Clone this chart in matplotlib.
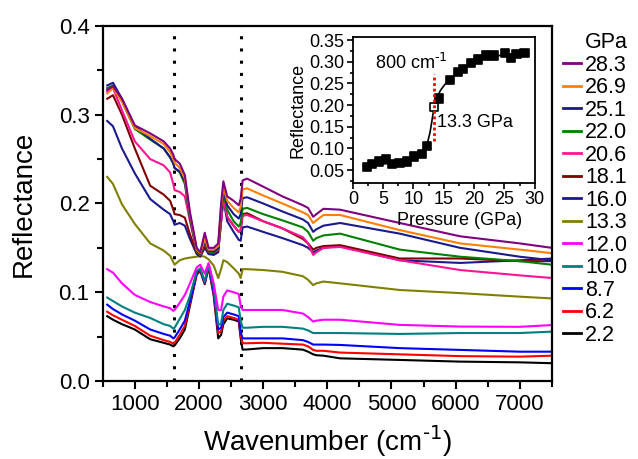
import matplotlib
matplotlib.use("Agg")
import matplotlib.pyplot as plt
from matplotlib.lines import Line2D
from matplotlib.ticker import MultipleLocator, FormatStrFormatter

plt.rcParams['font.family'] = ['Liberation Sans', 'DejaVu Sans']
plt.rcParams['mathtext.default'] = 'regular'

# ---------------- data ----------------
wavenumber = [570, 660, 800, 1000, 1240, 1450, 1550, 1600, 1620, 1700, 1780, 1860,
              1965, 2020, 2090, 2150, 2230, 2300, 2345, 2380, 2440, 2540, 2620, 2650,
              2680, 2750, 3000, 3300, 3620, 3700, 3780, 3830, 3940, 4200, 5130, 6070,
              7000, 7500]

r_28_3 = [0.328, 0.332, 0.318, 0.288, 0.279, 0.270, 0.262, 0.255, 0.250, 0.245, 0.232, 0.190,
          0.150, 0.145, 0.167, 0.150, 0.150, 0.155, 0.200, 0.225, 0.208, 0.203, 0.198, 0.205,
          0.226, 0.228, 0.219, 0.208, 0.198, 0.195, 0.185, 0.188, 0.194, 0.193, 0.178, 0.163,
          0.155, 0.150]
r_26_9 = [0.324, 0.330, 0.315, 0.285, 0.276, 0.267, 0.258, 0.250, 0.246, 0.240, 0.228, 0.188,
          0.148, 0.144, 0.160, 0.148, 0.148, 0.152, 0.195, 0.218, 0.203, 0.195, 0.190, 0.196,
          0.216, 0.217, 0.209, 0.200, 0.190, 0.187, 0.178, 0.181, 0.187, 0.187, 0.170, 0.155,
          0.148, 0.144]
r_25_1 = [0.333, 0.336, 0.318, 0.287, 0.273, 0.262, 0.252, 0.245, 0.240, 0.236, 0.225, 0.185,
          0.147, 0.143, 0.158, 0.147, 0.146, 0.150, 0.190, 0.215, 0.198, 0.188, 0.183, 0.188,
          0.206, 0.207, 0.200, 0.191, 0.182, 0.178, 0.168, 0.171, 0.175, 0.178, 0.166, 0.150,
          0.140, 0.136]
r_22_0 = [0.330, 0.333, 0.315, 0.284, 0.272, 0.262, 0.252, 0.245, 0.240, 0.235, 0.222, 0.183,
          0.146, 0.142, 0.157, 0.146, 0.145, 0.149, 0.188, 0.212, 0.193, 0.180, 0.174, 0.178,
          0.194, 0.195, 0.188, 0.181, 0.173, 0.168, 0.158, 0.161, 0.164, 0.166, 0.148, 0.140,
          0.135, 0.131]
r_20_6 = [0.326, 0.330, 0.305, 0.270, 0.250, 0.243, 0.235, 0.222, 0.215, 0.213, 0.208, 0.180,
          0.146, 0.142, 0.156, 0.146, 0.145, 0.148, 0.180, 0.205, 0.185, 0.175, 0.168, 0.170,
          0.186, 0.187, 0.180, 0.172, 0.162, 0.155, 0.142, 0.145, 0.150, 0.151, 0.136, 0.125,
          0.119, 0.116]
r_18_1 = [0.318, 0.322, 0.300, 0.262, 0.220, 0.210, 0.203, 0.193, 0.188, 0.187, 0.184, 0.165,
          0.144, 0.141, 0.152, 0.145, 0.144, 0.147, 0.180, 0.207, 0.185, 0.175, 0.168, 0.170,
          0.188, 0.189, 0.180, 0.172, 0.160, 0.155, 0.148, 0.150, 0.152, 0.153, 0.138, 0.138,
          0.135, 0.135]
r_16_0 = [0.293, 0.287, 0.262, 0.234, 0.205, 0.193, 0.188, 0.180, 0.176, 0.178, 0.175, 0.160,
          0.143, 0.140, 0.150, 0.143, 0.142, 0.145, 0.180, 0.205, 0.180, 0.168, 0.159, 0.158,
          0.173, 0.174, 0.168, 0.161, 0.153, 0.150, 0.145, 0.147, 0.150, 0.152, 0.136, 0.133,
          0.136, 0.138]
r_13_3 = [0.230, 0.222, 0.199, 0.177, 0.155, 0.147, 0.141, 0.134, 0.131, 0.136, 0.138, 0.139,
          0.140, 0.141, 0.140, 0.137, 0.130, 0.116, 0.126, 0.136, 0.134, 0.127, 0.121, 0.116,
          0.126, 0.126, 0.125, 0.123, 0.118, 0.114, 0.108, 0.110, 0.112, 0.110, 0.1025, 0.099,
          0.095, 0.093]
r_12_0 = [0.126, 0.122, 0.110, 0.097, 0.089, 0.084, 0.082, 0.079, 0.080, 0.088, 0.097, 0.110,
          0.128, 0.131, 0.121, 0.133, 0.110, 0.080, 0.080, 0.095, 0.102, 0.100, 0.098, 0.085,
          0.080, 0.080, 0.080, 0.080, 0.076, 0.072, 0.067, 0.068, 0.069, 0.069, 0.0632, 0.0613,
          0.061, 0.063]
r_10_0 = [0.094, 0.090, 0.084, 0.077, 0.071, 0.064, 0.062, 0.059, 0.060, 0.070, 0.080, 0.096,
          0.124, 0.127, 0.112, 0.131, 0.105, 0.063, 0.065, 0.080, 0.087, 0.085, 0.083, 0.068,
          0.060, 0.060, 0.061, 0.061, 0.059, 0.057, 0.054, 0.054, 0.054, 0.054, 0.053, 0.054,
          0.054, 0.0556]
r_8_7 = [0.086, 0.081, 0.075, 0.068, 0.058, 0.053, 0.051, 0.048, 0.049, 0.058, 0.068, 0.090,
         0.122, 0.126, 0.111, 0.130, 0.100, 0.058, 0.060, 0.072, 0.077, 0.075, 0.073, 0.055,
         0.048, 0.048, 0.048, 0.048, 0.046, 0.044, 0.041, 0.041, 0.041, 0.0406, 0.037, 0.035,
         0.033, 0.033]
r_6_2 = [0.078, 0.074, 0.069, 0.062, 0.051, 0.046, 0.044, 0.042, 0.043, 0.052, 0.062, 0.088,
         0.121, 0.125, 0.110, 0.129, 0.098, 0.054, 0.056, 0.068, 0.073, 0.071, 0.069, 0.052,
         0.0425, 0.0425, 0.043, 0.042, 0.041, 0.039, 0.035, 0.034, 0.034, 0.032, 0.030, 0.028,
         0.0274, 0.0285]
r_2_2 = [0.073, 0.069, 0.064, 0.058, 0.047, 0.043, 0.041, 0.039, 0.040, 0.048, 0.058, 0.085,
         0.120, 0.124, 0.109, 0.128, 0.096, 0.048, 0.052, 0.064, 0.0706, 0.069, 0.067, 0.048,
         0.0353, 0.0355, 0.037, 0.037, 0.0353, 0.033, 0.030, 0.029, 0.0285, 0.0255, 0.0237, 0.0218,
         0.021, 0.020]

pressure_labels = ["2.2", "6.2", "8.7", "10.0", "12.0", "13.3", "16.0", "18.1",
                   "20.6", "22.0", "25.1", "26.9", "28.3"]
series = [r_2_2, r_6_2, r_8_7, r_10_0, r_12_0, r_13_3, r_16_0, r_18_1,
          r_20_6, r_22_0, r_25_1, r_26_9, r_28_3]
colors = ["#000000", "#ff0000", "#0000ff", "#008080", "#ff00ff", "#808000", "#1a1a8c",
          "#800000", "#ff1493", "#008000", "#1a1a8c", "#ff8000", "#800080"]

marker_lines = [1610, 2655]

# inset data
inset_pressure = [2.3, 3.2, 4.3, 5.5, 6.5, 7.7, 8.9, 10.1, 11.4, 12.2, 13.4, 14.2, 16.0,
                  17.3, 18.2, 19.5, 20.6, 22.0, 23.3, 25.1, 26.1, 27.0, 28.3]
inset_reflect = [0.0577, 0.0633, 0.0694, 0.075, 0.0633, 0.0657, 0.0694, 0.081, 0.0867,
                 0.106, 0.1956, 0.215, 0.258, 0.277, 0.283, 0.297, 0.305, 0.314, 0.314,
                 0.320, 0.309, 0.318, 0.320]
fit_pressure = [1.8, 4, 6, 8, 10, 11, 11.8, 12.3, 12.7, 13.0, 13.3, 13.6, 14.0, 14.5,
                15.2, 16.0, 17.0, 18.0, 19.5, 21, 23, 25, 27, 28.5]
fit_reflect = [0.060, 0.063, 0.065, 0.069, 0.077, 0.085, 0.097, 0.113, 0.135, 0.160,
               0.187, 0.207, 0.222, 0.235, 0.248, 0.259, 0.272, 0.283, 0.296, 0.305,
               0.312, 0.316, 0.319, 0.320]
transition_pressure = 13.3

# ---------------- figure ----------------
fig = plt.figure(figsize=(6.38, 4.59), dpi=100)
ax = fig.add_axes([0.161, 0.170, 0.704, 0.7734])

for vals, c, lab in zip(series, colors, pressure_labels):
    ax.plot(wavenumber, vals, color=c, lw=1.5, label=lab)

for xv in marker_lines:
    ax.axvline(xv, color='k', lw=2.2, ls=(0, (1, 3)), dash_capstyle='butt', zorder=0)

ax.set_xlim(500, 7500)
ax.set_ylim(0.0, 0.4)
ax.xaxis.set_major_locator(MultipleLocator(1000))
ax.xaxis.set_minor_locator(MultipleLocator(500))
ax.yaxis.set_major_locator(MultipleLocator(0.1))
ax.yaxis.set_minor_locator(MultipleLocator(0.05))
ax.yaxis.set_major_formatter(FormatStrFormatter('%.1f'))
ax.set_xticks([1000, 2000, 3000, 4000, 5000, 6000, 7000])
ax.tick_params(which='major', direction='out', length=6, width=1.5, labelsize=16)
ax.tick_params(which='minor', direction='out', length=4, width=1.5)
for s in ax.spines.values():
    s.set_linewidth(1.6)
ax.set_xlabel(r'Wavenumber (cm$^{\text{-1}}$)', fontsize=20, labelpad=6)
ax.set_ylabel('Reflectance', fontsize=20, labelpad=16)

# legend
handles = [Line2D([], [], color=c, lw=2) for c in colors][::-1]
labels = pressure_labels[::-1]
leg = fig.legend(handles, labels, loc='upper left', bbox_to_anchor=(0.882, 0.93),
                 frameon=False, fontsize=15.5, title='GPa', title_fontsize=15.5,
                 handlelength=0.85, handletextpad=0.2, labelspacing=0.07,
                 borderpad=0.0, borderaxespad=0.0)
leg._legend_box.align = "right"

# inset
axi = fig.add_axes([0.553, 0.6013, 0.2853, 0.318])
axi.plot(fit_pressure, fit_reflect, color='k', lw=1.2, zorder=2)
face = ['white' if abs(p - transition_pressure) < 0.2 else 'black' for p in inset_pressure]
axi.scatter(inset_pressure, inset_reflect, marker='s', s=36, c=face,
            edgecolors='black', linewidths=1.2, zorder=3)
axi.plot([transition_pressure, transition_pressure], [0.118, 0.272], color='red',
         lw=2, ls=(0, (1, 1)), zorder=4)
axi.set_xlim(0, 30)
axi.set_ylim(0.02, 0.357)
axi.xaxis.set_major_locator(MultipleLocator(5))
axi.xaxis.set_minor_locator(MultipleLocator(2.5))
axi.yaxis.set_major_locator(MultipleLocator(0.05))
axi.yaxis.set_minor_locator(MultipleLocator(0.025))
axi.yaxis.set_major_formatter(FormatStrFormatter('%.2f'))
axi.set_yticks([0.05, 0.10, 0.15, 0.20, 0.25, 0.30, 0.35])
axi.tick_params(which='major', direction='out', length=4, width=1.2, labelsize=13, pad=2)
axi.tick_params(which='minor', direction='out', length=2.5, width=1.2)
for s in axi.spines.values():
    s.set_linewidth(1.3)
axi.set_xlabel('Pressure (GPa)', fontsize=13)
axi.xaxis.set_label_coords(0.585, -0.2)
axi.set_ylabel('Reflectance', fontsize=13, labelpad=2)
axi.text(3.6, 0.298, r'800 cm$^{\text{-1}}$', fontsize=13, va='center', ha='left')
axi.text(13.8, 0.160, '13.3 GPa', fontsize=13, va='center', ha='left')

fig.savefig('out.png', dpi=100)
